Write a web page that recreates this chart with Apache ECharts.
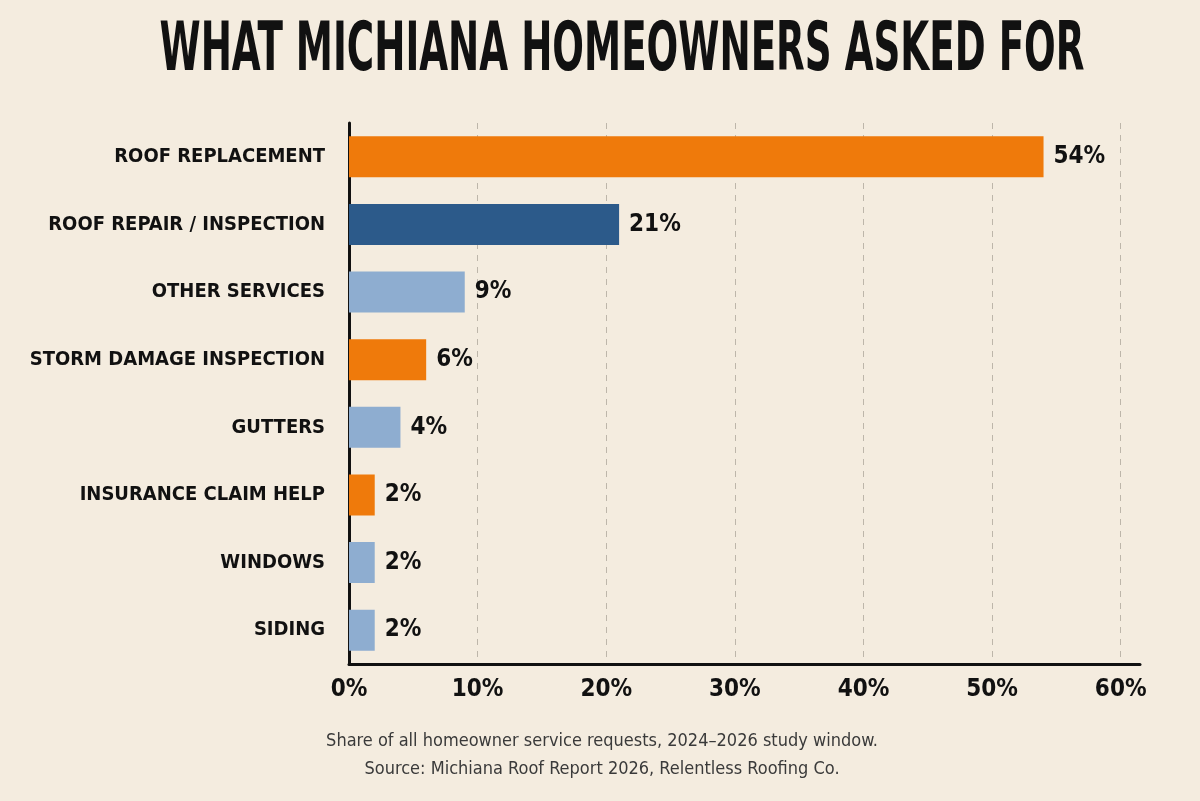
<!DOCTYPE html>
<html>
<head>
<meta charset="utf-8">
<script src="https://cdn.jsdelivr.net/npm/echarts@6/dist/echarts.min.js"></script>
<style>
  html, body { margin: 0; padding: 0; background: #f4ecdf; }
  #chart { width: 1200px; height: 801px; }
</style>
</head>
<body>
<div id="chart"></div>
<script>
// data
var categories = ['ROOF REPLACEMENT', 'ROOF REPAIR / INSPECTION', 'OTHER SERVICES',
    'STORM DAMAGE INSPECTION', 'GUTTERS', 'INSURANCE CLAIM HELP', 'WINDOWS', 'SIDING'];
var shares = [54, 21, 9, 6, 4, 2, 2, 2];
var barColors = ['#ef7a0b', '#2c5a8a', '#8eadd0', '#ef7a0b', '#8eadd0', '#ef7a0b', '#8eadd0', '#8eadd0'];
var titleText = 'WHAT MICHIANA HOMEOWNERS ASKED FOR';
var noteLines = ['Share of all homeowner service requests, 2024\u20132026 study window.',
    'Source: Michiana Roof Report 2026, Relentless Roofing Co.'];

var NARROW = "'Liberation Sans Narrow', 'DejaVu Sans Condensed', 'Noto Sans', sans-serif";

// squeeze the title to the width it has in the reference (~925px)
var ctx = document.createElement('canvas').getContext('2d');
ctx.font = 'bold 68px ' + NARROW;
var titleScale = 925 / ctx.measureText(titleText).width;

var barData = [];
for (var i = 0; i < shares.length; i++) {
    barData.push({value: shares[i], itemStyle: {color: barColors[i]}});
}

var option = {
    backgroundColor: '#f4ecdf',
    animation: false,
    grid: {left: 349, right: 60, top: 123, bottom: 137, outerBoundsMode: 'none'},
    xAxis: {
        type: 'value',
        min: 0,
        max: 61.5, // axis line runs a bit past 60%
        interval: 10,
        axisLine: {show: true, lineStyle: {color: '#111', width: 3}},
        axisTick: {show: false},
        splitLine: {
            show: true,
            showMinLine: false,
            showMaxLine: false,
            lineStyle: {color: '#bdb6aa', type: [6, 6], width: 1}
        },
        axisLabel: {
            formatter: '{value}%',
            showMaxLabel: false,
            color: '#111',
            fontFamily: NARROW,
            fontWeight: 'bold',
            fontSize: 24,
            margin: 14
        }
    },
    yAxis: {
        type: 'category',
        inverse: true,
        data: categories,
        axisLine: {show: true, lineStyle: {color: '#111', width: 3}},
        axisTick: {show: false},
        axisLabel: {
            color: '#111',
            fontFamily: NARROW,
            fontWeight: 'bold',
            fontSize: 20,
            margin: 24
        }
    },
    series: [{
        type: 'bar',
        data: barData,
        barWidth: 41,
        label: {
            show: true,
            position: 'right',
            distance: 10,
            formatter: '{c}%',
            color: '#111',
            fontFamily: NARROW,
            fontWeight: 'bold',
            fontSize: 24
        }
    }],
    graphic: [
        {
            type: 'text',
            x: 622,
            y: 52,
            scaleX: titleScale,
            style: {
                text: titleText,
                font: 'bold 68px ' + NARROW,
                fill: '#111',
                align: 'center',
                verticalAlign: 'middle'
            }
        },
        {
            type: 'text',
            x: 602,
            y: 741,
            style: {
                text: noteLines[0],
                font: '18px ' + NARROW,
                fill: '#3a3a3a',
                align: 'center',
                verticalAlign: 'middle'
            }
        },
        {
            type: 'text',
            x: 602,
            y: 769,
            style: {
                text: noteLines[1],
                font: '18px ' + NARROW,
                fill: '#3a3a3a',
                align: 'center',
                verticalAlign: 'middle'
            }
        }
    ]
};

var myChart = echarts.init(document.getElementById('chart'));
myChart.setOption(option);
</script>
</body>
</html>
